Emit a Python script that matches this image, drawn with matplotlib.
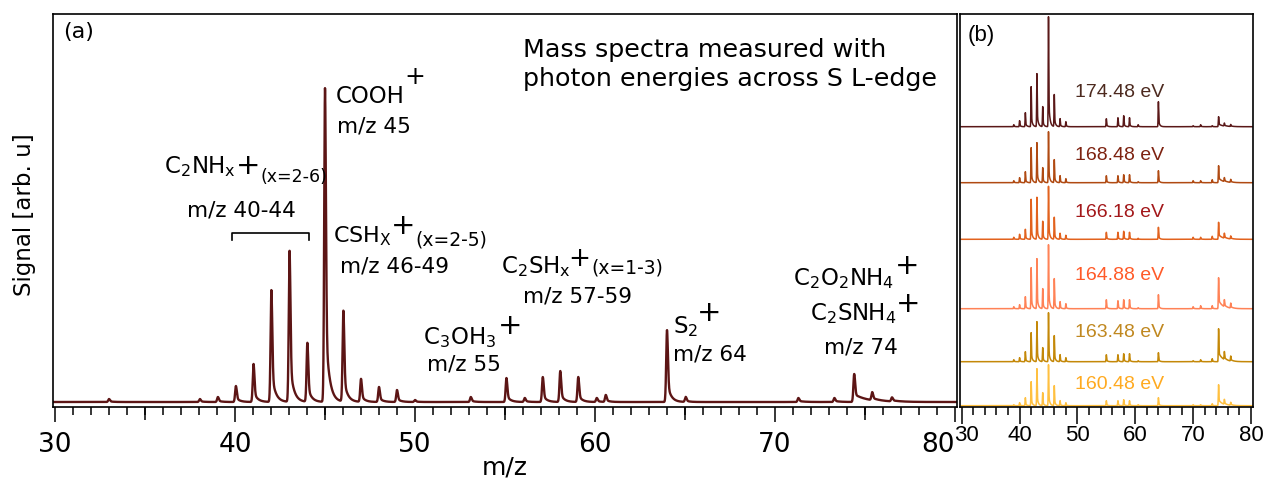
import numpy as np
import matplotlib
matplotlib.use("Agg")
from matplotlib import pyplot as plt
from matplotlib import transforms

plt.rcParams['mathtext.default'] = 'regular'

# ---- panel (a): spectrum at 174.48 eV (peak m/z, height, tail width)
peak_mz = [33.0, 38.05, 39.05, 40.05, 41.03, 42.02, 43.03, 44.02, 45.0, 46.02,
           47.0, 48.0, 49.0, 50.0, 53.1, 55.08, 56.1, 57.1, 58.07, 59.07,
           60.1, 60.6, 64.0, 65.04, 71.3, 73.3, 74.4, 75.4, 76.5]
peak_height = [3, 3, 5, 16, 38, 112, 151, 59, 314, 91,
               23, 15, 12, 2, 5, 24, 4, 25, 31, 25,
               4, 7, 72, 5, 4, 4, 28, 8, 4]
peak_tail = [0.2, 0.2, 0.2, 0.2, 0.2, 0.2, 0.2, 0.2, 0.2, 0.2,
             0.2, 0.2, 0.2, 0.2, 0.2, 0.2, 0.2, 0.2, 0.2, 0.2,
             0.2, 0.2, 0.2, 0.2, 0.3, 0.3, 0.7, 0.5, 0.5]

# ---- panel (b): spectra at several photon energies
energies = ["174.48 eV", "168.48 eV", "166.18 eV", "164.88 eV", "163.48 eV", "160.48 eV"]
b_mz = [39, 40, 41, 42, 43, 44, 45, 46, 47, 48, 55, 57, 58, 59, 60.5,
        64, 70, 71.3, 73.3, 74.4, 75.4, 76.5]
b_heights = [
    [2, 6, 14, 40, 53, 20, 110, 32, 8, 5, 8, 9, 11, 9, 2, 25, 1, 2, 1, 10, 3, 2],
    [2, 5, 11, 35, 40, 15, 51, 23, 7, 4, 7, 7, 8, 8, 1, 12, 2, 2, 3, 17, 4, 3],
    [2, 5, 10, 40, 42, 18, 53, 22, 6, 4, 7, 7, 8, 7, 1, 12, 2, 2, 3, 17, 5, 3],
    [2, 4, 12, 41, 50, 20, 64, 30, 7, 5, 9, 8, 9, 9, 1, 14, 2, 3, 3, 31, 7, 5],
    [2, 4, 10, 29, 40, 14, 49, 26, 7, 4, 7, 7, 8, 8, 1, 9, 1, 2, 3, 33, 8, 5],
    [1, 3, 8, 24, 37, 13, 41, 20, 5, 3, 5, 5, 6, 5, 1, 8, 1, 1, 2, 21, 5, 3],
]
b_offsets = [280.3, 224.3, 167.7, 98.3, 45.3, 1.3]
b_line_colors = ["#5a1818", "#b04a12", "#e2621e", "#ff8256", "#c48808", "#ffc040"]
b_text_colors = ["#4d2a1f", "#7d2210", "#a3181a", "#ff5a28", "#c08820", "#ffaa20"]

A_COLOR = "#5c1515"


def spectrum(x, centers, heights, tails):
    y = np.zeros_like(x)
    for c, h, t in zip(centers, heights, tails):
        d = x - c
        left = np.exp(-0.5 * (d / 0.045) ** 2)
        right = 0.72 * np.exp(-0.5 * (d / 0.05) ** 2) + 0.28 * np.exp(-np.clip(d, 0, None) / t)
        y += h * np.where(d < 0, left, right)
    return y


def main():
    fig = plt.figure(figsize=(12.66, 4.82), dpi=100)
    W, H = 1266, 482
    ax = fig.add_axes([52.7 / W, 75 / H, 904.3 / W, 393 / H])
    axb = fig.add_axes([959.7 / W, 75 / H, 293 / W, 393 / H])

    x = np.linspace(29.9, 80.2, 8000)

    # ---------------- panel (a)
    ax.plot(x, spectrum(x, peak_mz, peak_height, peak_tail), color=A_COLOR, lw=1.7)
    ax.set_xlim(29.87, 80.11)
    ax.set_ylim(-5, 388)
    ax.set_yticks([])
    ax.set_xticks(range(30, 81, 10))
    ax.set_xticks(range(30, 81, 1), minor=True)
    ax.tick_params(axis='x', which='major', length=11, width=1.1, labelsize=19, pad=7)
    ax.tick_params(axis='x', which='minor', length=6, width=1.1)
    ax.get_xticklabels()[-1].set_ha('right')
    sec = ax.secondary_xaxis('bottom')
    sec.set_xticks(range(35, 80, 10))
    sec.tick_params(length=9, width=1.1, labelbottom=False)
    sec.spines['bottom'].set_visible(False)
    for s in ax.spines.values():
        s.set_linewidth(1.2)
    ax.set_xlabel("m/z", fontsize=18, labelpad=-2)
    fig.text(24 / W, 1 - 215 / H, "Signal [arb. u]", rotation=90, fontsize=16.5,
             ha='center', va='center')

    ax.text(30.44, 380, "(a)", fontsize=16, va='top', ha='left')
    ax.text(56.0, 345, "Mass spectra measured with", fontsize=18.3, va='baseline')
    ax.text(56.0, 316, "photon energies across S L-edge", fontsize=18.3, va='baseline')

    fs_f = 16.5
    fs_m = 15.5
    fs_p = 12.5
    # COOH+
    ax.text(45.61, 298.7, "COOH", fontsize=fs_f, va='baseline')
    ax.text(50.0, 325, "+", fontsize=18, ha='center', va='center')
    ax.text(45.67, 269.3, "m/z 45", fontsize=fs_m, va='baseline')
    # C2NHx+
    ax.text(36.06, 229, "C$_2$NH$_x$", fontsize=fs_f, va='baseline')
    ax.text(40.72, 236, "+", fontsize=21, ha='center', va='center')
    ax.text(41.4, 220, "(x=2-6)", fontsize=fs_p, va='baseline')
    ax.text(37.33, 185, "m/z 40-44", fontsize=fs_m, va='baseline')
    ax.plot([39.82, 39.82, 44.13, 44.13], [162, 168.7, 168.7, 162], color='black', lw=1.2)
    # CSHx+
    ax.text(45.44, 159.3, "CSH$_X$", fontsize=16, va='baseline')
    ax.text(49.35, 176.5, "+", fontsize=21, ha='center', va='center')
    ax.text(50.0, 157, "(x=2-5)", fontsize=fs_p + 1, va='baseline')
    ax.text(45.83, 129, "m/z 46-49", fontsize=fs_m, va='baseline')
    # C2SHx+
    ax.text(54.78, 128.7, "C$_2$SH$_x$", fontsize=fs_f, va='baseline')
    ax.text(59.15, 142.5, "+", fontsize=19, ha='center', va='center')
    ax.text(59.8, 129, "(x=1-3)", fontsize=fs_p + 1, va='baseline')
    ax.text(55.98, 99, "m/z 57-59", fontsize=fs_m, va='baseline')
    # C3OH3+
    ax.text(50.43, 58, "C$_3$OH$_3$", fontsize=fs_f, va='baseline')
    ax.text(55.28, 76, "+", fontsize=21, ha='center', va='center')
    ax.text(50.67, 31.3, "m/z 55", fontsize=fs_m, va='baseline')
    # S2+
    ax.text(64.33, 69, "S$_2$", fontsize=fs_f, va='baseline')
    ax.text(66.33, 89, "+", fontsize=21, ha='center', va='center')
    ax.text(64.33, 42, "m/z 64", fontsize=fs_m, va='baseline')
    # C2O2NH4+ / C2SNH4+
    ax.text(71.02, 117, "C$_2$O$_2$NH$_4$", fontsize=fs_f, va='baseline')
    ax.text(77.32, 136.5, "+", fontsize=21, ha='center', va='center')
    ax.text(71.94, 82, "C$_2$SNH$_4$", fontsize=fs_f, va='baseline')
    ax.text(77.39, 98, "+", fontsize=21, ha='center', va='center')
    ax.text(72.72, 48.7, "m/z 74", fontsize=fs_m, va='baseline')

    # ---------------- panel (b)
    b_tails = [0.2] * (len(b_mz) - 3) + [0.7, 0.5, 0.5]
    for hts, off, lc in zip(b_heights, b_offsets, b_line_colors):
        axb.plot(x, off + spectrum(x, b_mz, hts, b_tails), color=lc, lw=1.1)
    label_y = [310.3, 247, 190.3, 127, 69.7, 17.7]
    for lab, ly, tc in zip(energies, label_y, b_text_colors):
        axb.text(57.36, ly, lab, color=tc, fontsize=14, family='Liberation Sans',
                 ha='center', va='baseline')
    axb.text(31.1, 382, "(b)", fontsize=16, family='Liberation Sans', va='top')
    axb.set_xlim(29.65, 80.3)
    axb.set_ylim(0, 393)
    axb.set_yticks([])
    axb.set_xticks(range(30, 81, 10))
    axb.set_xticks(range(30, 81, 2), minor=True)
    axb.tick_params(axis='x', which='major', length=12, width=1.1, labelsize=16, pad=1)
    axb.tick_params(axis='x', which='minor', length=6, width=1.1)
    blabels = axb.get_xticklabels()
    for lbl in blabels:
        lbl.set_family('Liberation Sans')
    blabels[0].set_transform(blabels[0].get_transform() +
                             transforms.ScaledTranslation(5 / 100, 0, fig.dpi_scale_trans))
    for s in axb.spines.values():
        s.set_linewidth(1.2)

    fig.savefig("out.png", dpi=100)


if __name__ == "__main__":
    main()
